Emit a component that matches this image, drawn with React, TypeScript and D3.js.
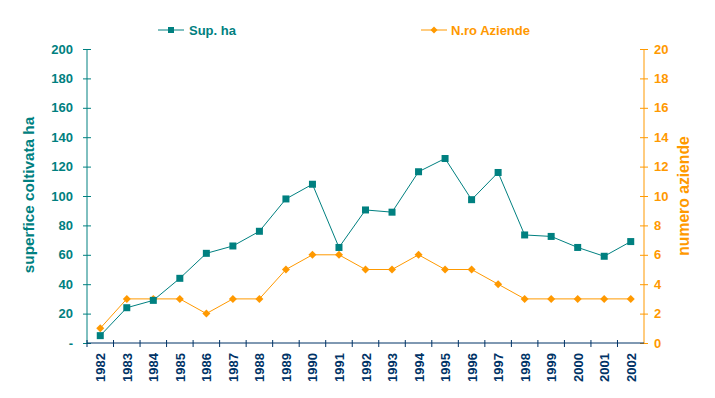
import React, {useRef, useEffect} from 'react';
import * as d3 from 'd3';

const years = ['1982', '1983', '1984', '1985', '1986', '1987', '1988', '1989', '1990', '1991', '1992',
    '1993', '1994', '1995', '1996', '1997', '1998', '1999', '2000', '2001', '2002'];
const supHa = [5, 24, 29, 44, 61, 66, 76, 98, 108, 65, 90.5, 89, 116.5, 125.5, 97.5, 116, 73.5, 72.5, 65, 59, 69];
const nAziende = [1, 3, 3, 3, 2, 3, 3, 5, 6, 6, 5, 5, 6, 5, 5, 4, 3, 3, 3, 3, 3];
const leftTicks = [0, 20, 40, 60, 80, 100, 120, 140, 160, 180, 200];
const rightTicks = [0, 2, 4, 6, 8, 10, 12, 14, 16, 18, 20];

const TEAL = '#008080';
const ORANGE = '#FF9900';
const NAVY = '#003366';
const FONT = 'Arial, "Liberation Sans", sans-serif';

const App = () => {
    const svgRef = useRef(null);
    const width = 715;
    const height = 398;

    useEffect(() => {
        const svg = d3.select(svgRef.current);
        svg.selectAll('*').remove();

        const margin = {top: 49, right: 71, bottom: 55, left: 87};
        const chartWidth = width - margin.left - margin.right;
        const chartHeight = height - margin.top - margin.bottom;

        const chart = svg.append('g')
            .attr('transform', `translate(${margin.left}, ${margin.top})`);

        // scales
        const xScale = d3.scaleBand().domain(years).range([0, chartWidth]);
        const yLeft = d3.scaleLinear().domain([0, 200]).range([chartHeight, 0]);
        const yRight = d3.scaleLinear().domain([0, 20]).range([chartHeight, 0]);
        const cx = (i: number) => xScale(years[i])! + xScale.bandwidth() / 2;

        // left axis
        const leftAxis = chart.append('g')
            .call(d3.axisLeft(yLeft).tickValues(leftTicks)
                .tickFormat(d => (d === 0 ? '-' : String(d))).tickSize(4).tickPadding(10));
        leftAxis.select('.domain').attr('stroke', TEAL).attr('d', `M0,0V${chartHeight}`);
        leftAxis.selectAll('.tick line').attr('stroke', TEAL).attr('x1', 4).attr('x2', -4);
        leftAxis.selectAll('.tick text').attr('fill', TEAL)
            .style('font', `bold 13px ${FONT}`);

        // right axis
        const rightAxis = chart.append('g')
            .attr('transform', `translate(${chartWidth}, 0)`)
            .call(d3.axisRight(yRight).tickValues(rightTicks).tickSize(4).tickPadding(6));
        rightAxis.select('.domain').attr('stroke', ORANGE).attr('d', `M0,0V${chartHeight}`);
        rightAxis.selectAll('.tick line').attr('stroke', ORANGE).attr('x1', -4).attr('x2', 4);
        rightAxis.selectAll('.tick text').attr('fill', ORANGE)
            .style('font', `bold 13px ${FONT}`);

        // x axis
        const xAxis = chart.append('g')
            .attr('transform', `translate(0, ${chartHeight})`);
        xAxis.append('line')
            .attr('x1', 0).attr('x2', chartWidth)
            .attr('stroke', NAVY);
        xAxis.selectAll('line.tk')
            .data(d3.range(years.length))
            .enter().append('line')
            .attr('class', 'tk')
            .attr('x1', i => xScale(years[i])!)
            .attr('x2', i => xScale(years[i])!)
            .attr('y1', -3).attr('y2', 4)
            .attr('stroke', NAVY);
        xAxis.selectAll('text')
            .data(years)
            .enter().append('text')
            .attr('transform', d => `translate(${xScale(d)! + xScale.bandwidth() / 2 + 5}, 10) rotate(-90)`)
            .attr('text-anchor', 'end')
            .attr('fill', NAVY)
            .style('font', `bold 13px ${FONT}`)
            .text(d => d);

        // lines
        const lineSup = d3.line<number>().x((d, i) => cx(i)).y(d => yLeft(d));
        const lineAz = d3.line<number>().x((d, i) => cx(i)).y(d => yRight(d));

        chart.append('path')
            .datum(nAziende)
            .attr('fill', 'none')
            .attr('stroke', ORANGE)
            .attr('stroke-width', 1)
            .attr('d', lineAz);

        chart.append('path')
            .datum(supHa)
            .attr('fill', 'none')
            .attr('stroke', TEAL)
            .attr('stroke-width', 1)
            .attr('d', lineSup);

        const diamond = (x: number, y: number, r: number) =>
            `M${x},${y - r}L${x + r},${y}L${x},${y + r}L${x - r},${y}Z`;

        chart.selectAll('path.az')
            .data(nAziende)
            .enter().append('path')
            .attr('class', 'az')
            .attr('fill', ORANGE)
            .attr('d', (d, i) => diamond(cx(i), yRight(d), 4));

        chart.selectAll('rect.sup')
            .data(supHa)
            .enter().append('rect')
            .attr('class', 'sup')
            .attr('fill', TEAL)
            .attr('x', (d, i) => cx(i) - 3.5)
            .attr('y', d => yLeft(d) - 3.5)
            .attr('width', 7)
            .attr('height', 7);

        // axis titles
        svg.append('text')
            .attr('transform', `translate(34, 195) rotate(-90)`)
            .attr('text-anchor', 'middle')
            .attr('fill', TEAL)
            .style('font', `bold 15.3px ${FONT}`)
            .text('superfice coltivata ha');

        svg.append('text')
            .attr('transform', `translate(689, 196) rotate(-90)`)
            .attr('text-anchor', 'middle')
            .attr('fill', ORANGE)
            .style('font', `bold 15.7px ${FONT}`)
            .text('numero aziende');

        // legend
        const legend = svg.append('g');
        legend.append('line')
            .attr('x1', 158).attr('x2', 184).attr('y1', 30).attr('y2', 30)
            .attr('stroke', TEAL);
        legend.append('rect')
            .attr('x', 168).attr('y', 27).attr('width', 6).attr('height', 6)
            .attr('fill', TEAL);
        legend.append('text')
            .attr('x', 189).attr('y', 35)
            .attr('fill', TEAL)
            .style('font', `bold 13px ${FONT}`)
            .text('Sup. ha');

        legend.append('line')
            .attr('x1', 421).attr('x2', 447).attr('y1', 30).attr('y2', 30)
            .attr('stroke', ORANGE);
        legend.append('path')
            .attr('d', diamond(434, 30, 3.5))
            .attr('fill', ORANGE);
        legend.append('text')
            .attr('x', 451).attr('y', 35)
            .attr('fill', ORANGE)
            .style('font', `bold 13px ${FONT}`)
            .text('N.ro Aziende');
    }, []);

    return (
        <svg ref={svgRef} width={width} height={height}
             style={{position: 'absolute', left: 0, top: 0, background: '#fff'}}/>
    );
};

export default App;
